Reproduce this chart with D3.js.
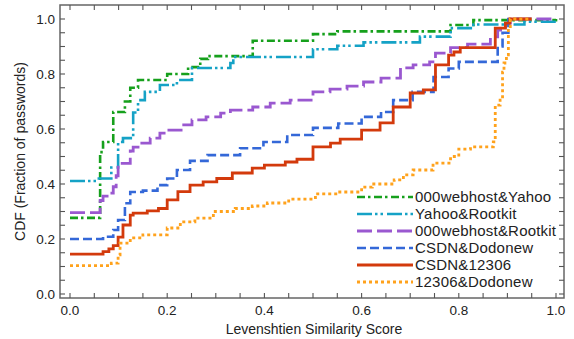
<!DOCTYPE html>
<html>
<head>
<meta charset="utf-8">
<script src="https://cdn.jsdelivr.net/npm/d3@7"></script>
<style>
  html, body { margin: 0; padding: 0; background: #fff; }
  svg { display: block; font-family: "Liberation Sans", Arial, Helvetica, sans-serif; }
</style>
</head>
<body>
<svg id="chart" width="574" height="339"></svg>
<script>
// ---- data (Levenshtein score, CDF) ----
const webhostYahoo = [[0,0.277],[0.062,0.516],[0.068,0.553],[0.089,0.662],[0.113,0.70],[0.124,0.75],[0.14,0.778],[0.2,0.80],[0.243,0.825],[0.268,0.855],[0.284,0.865],[0.376,0.921],[0.50,0.945],[0.55,0.955],[0.783,0.978],[0.83,0.996],[1.0,1.0]];
const yahooRootkit = [[0,0.411],[0.055,0.42],[0.085,0.46],[0.099,0.553],[0.109,0.567],[0.13,0.66],[0.14,0.705],[0.154,0.735],[0.185,0.76],[0.22,0.778],[0.251,0.822],[0.33,0.84],[0.336,0.862],[0.50,0.89],[0.55,0.903],[0.604,0.915],[0.72,0.936],[0.783,0.967],[0.83,0.98],[0.935,0.99],[1.0,0.99]];
const webhostRootkit = [[0,0.296],[0.062,0.34],[0.068,0.356],[0.08,0.367],[0.089,0.39],[0.095,0.43],[0.099,0.475],[0.124,0.52],[0.13,0.534],[0.14,0.549],[0.165,0.567],[0.185,0.585],[0.2,0.596],[0.234,0.615],[0.251,0.633],[0.28,0.644],[0.31,0.658],[0.33,0.669],[0.376,0.68],[0.412,0.694],[0.453,0.705],[0.5,0.735],[0.535,0.745],[0.57,0.756],[0.604,0.771],[0.64,0.785],[0.68,0.822],[0.706,0.833],[0.74,0.844],[0.752,0.876],[0.783,0.896],[0.818,0.909],[0.865,0.935],[0.88,0.96],[0.886,0.972],[0.896,0.985],[0.906,1.0],[1.0,1.0]];
const csdnDodonew = [[0,0.2],[0.068,0.208],[0.089,0.233],[0.099,0.269],[0.113,0.33],[0.124,0.371],[0.15,0.376],[0.18,0.396],[0.2,0.42],[0.22,0.451],[0.247,0.484],[0.283,0.505],[0.35,0.53],[0.398,0.553],[0.447,0.578],[0.5,0.604],[0.552,0.62],[0.6,0.644],[0.64,0.662],[0.665,0.705],[0.705,0.735],[0.748,0.789],[0.779,0.82],[0.80,0.844],[0.88,0.9],[0.89,0.95],[0.902,1.0],[0.95,1.0]];
const csdn12306 = [[0,0.145],[0.068,0.154],[0.08,0.164],[0.089,0.176],[0.099,0.207],[0.109,0.251],[0.124,0.287],[0.13,0.294],[0.159,0.302],[0.182,0.311],[0.2,0.342],[0.222,0.372],[0.247,0.396],[0.274,0.408],[0.302,0.42],[0.334,0.44],[0.375,0.458],[0.40,0.469],[0.443,0.48],[0.467,0.49],[0.5,0.535],[0.536,0.549],[0.556,0.563],[0.6,0.596],[0.638,0.622],[0.665,0.68],[0.7,0.731],[0.727,0.742],[0.752,0.833],[0.779,0.869],[0.79,0.88],[0.803,0.896],[0.875,0.967],[0.896,0.985],[0.905,1.0],[0.95,1.0]];
const dodonew12306 = [[0,0.103],[0.085,0.112],[0.099,0.142],[0.103,0.185],[0.124,0.204],[0.15,0.215],[0.2,0.24],[0.227,0.262],[0.257,0.276],[0.295,0.3],[0.34,0.311],[0.375,0.32],[0.406,0.331],[0.45,0.345],[0.505,0.364],[0.552,0.371],[0.6,0.389],[0.622,0.40],[0.667,0.415],[0.686,0.433],[0.706,0.451],[0.747,0.476],[0.783,0.5],[0.8,0.527],[0.824,0.535],[0.871,0.553],[0.875,0.687],[0.885,0.705],[0.89,0.807],[0.893,0.84],[0.898,0.87],[0.902,0.967],[0.906,1.0],[0.95,1.0]];

const seriesNames = ["000webhost&Yahoo","Yahoo&Rootkit","000webhost&Rootkit","CSDN&Dodonew","CSDN&12306","12306&Dodonew"];
const seriesData = [webhostYahoo, yahooRootkit, webhostRootkit, csdnDodonew, csdn12306, dodonew12306];
const xTickLabels = [0, 0.2, 0.4, 0.6, 0.8, 1.0];
const yTickLabels = [0, 0.2, 0.4, 0.6, 0.8, 1.0];
const xTitle = "Levenshtien Similarity Score";
const yTitle = "CDF (Fraction of passwords)";

// ---- styles ----
const colors = ["#16a01c", "#15a2c6", "#9a58d0", "#3468d8", "#d33a0c", "#ffa21c"];
const dashes = ["8,3,2.5,3.5", "15,3,2.5,3,2.5,4", "15,5", "9,4", null, "3,3"];
const widths = [2.6, 2.6, 2.8, 2.6, 2.8, 2.8];

const svg = d3.select("#chart");
const frame = {left: 60, right: 564, top: 5, bottom: 298};
const x = d3.scaleLinear().domain([0, 1]).range([70, 556]);
const y = d3.scaleLinear().domain([0, 1]).range([294, 19]);

// lines
const line = d3.line().x(d => x(d[0])).y(d => y(d[1])).curve(d3.curveStepAfter);
const gLines = svg.append("g");
seriesData.forEach((s, i) => {
  gLines.append("path")
    .attr("d", line(s))
    .attr("fill", "none")
    .attr("stroke", colors[i])
    .attr("stroke-width", widths[i])
    .attr("stroke-dasharray", dashes[i])
    .attr("stroke-linejoin", "miter");
});

// frame
svg.append("rect")
  .attr("x", frame.left).attr("y", frame.top)
  .attr("width", frame.right - frame.left).attr("height", frame.bottom - frame.top)
  .attr("fill", "none").attr("stroke", "#666").attr("stroke-width", 1.5);

// ticks (inside, every 0.05)
const minor = d3.range(0, 1.0001, 0.05);
const tickLen = 5;
const axisColor = "#555";
const gT = svg.append("g").attr("stroke", axisColor).attr("stroke-width", 1.1);
minor.forEach(v => {
  gT.append("line").attr("x1", x(v)).attr("x2", x(v)).attr("y1", frame.bottom).attr("y2", frame.bottom - tickLen);
  gT.append("line").attr("x1", x(v)).attr("x2", x(v)).attr("y1", frame.top).attr("y2", frame.top + tickLen);
  gT.append("line").attr("y1", y(v)).attr("y2", y(v)).attr("x1", frame.left).attr("x2", frame.left + tickLen);
  gT.append("line").attr("y1", y(v)).attr("y2", y(v)).attr("x1", frame.right).attr("x2", frame.right - tickLen);
});

// tick labels
const fmt = d3.format(".1f");
svg.append("g").selectAll("text").data(xTickLabels).join("text")
  .attr("x", d => x(d)).attr("y", 315)
  .attr("text-anchor", "middle").attr("font-size", 13.5).attr("fill", "#222")
  .text(d => fmt(d));
svg.append("g").selectAll("text").data(yTickLabels).join("text")
  .attr("x", 55).attr("y", d => y(d)).attr("dy", "0.35em")
  .attr("text-anchor", "end").attr("font-size", 13.5).attr("fill", "#222")
  .text(d => fmt(d));

// axis titles
svg.append("text").attr("x", (frame.left + frame.right) / 2 + 2).attr("y", 334)
  .attr("text-anchor", "middle").attr("font-size", 14).attr("fill", "#222").text(xTitle);
svg.append("text").attr("transform", `translate(25,${(frame.top + frame.bottom) / 2}) rotate(-90)`)
  .attr("text-anchor", "middle").attr("font-size", 14).attr("fill", "#222").text(yTitle);

// legend
const legY0 = 197, legDy = 17;
const leg = svg.append("g");
seriesNames.forEach((name, i) => {
  const yy = legY0 + i * legDy;
  leg.append("line").attr("x1", 357).attr("x2", 413).attr("y1", yy).attr("y2", yy)
    .attr("stroke", colors[i]).attr("stroke-width", widths[i])
    .attr("stroke-dasharray", dashes[i]);
  leg.append("text").attr("x", 415).attr("y", yy).attr("dy", "0.36em")
    .attr("font-size", 15).attr("letter-spacing", 0.2).attr("fill", "#222").text(name);
});
</script>
</body>
</html>
